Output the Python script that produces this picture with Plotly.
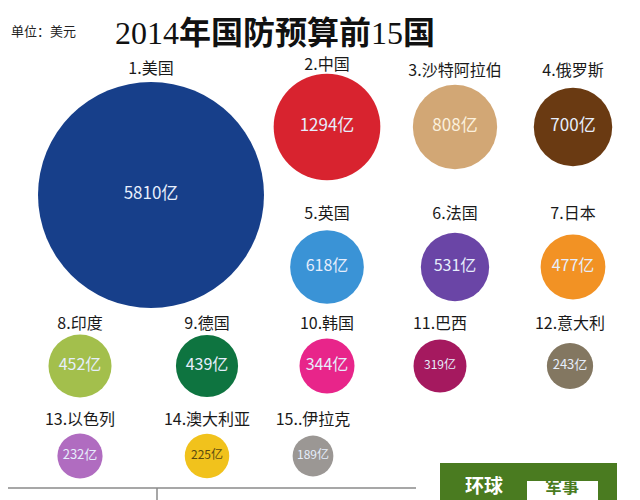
import plotly.graph_objects as go

# 2014 defence budgets, top 15 (unit: 亿美元)
countries = ["美国", "中国", "沙特阿拉伯", "俄罗斯", "英国", "法国", "日本", "印度",
             "德国", "韩国", "巴西", "意大利", "以色列", "澳大利亚", ".伊拉克"]
budgets = [5810, 1294, 808, 700, 618, 531, 477, 452, 439, 344, 319, 243, 232, 225, 189]

# layout: slot centre of each bubble in page pixels
slot_x = [151, 327, 455, 573, 327, 455, 573, 80, 207, 327, 440, 570, 80, 207, 313]
slot_y = [195, 127, 127, 127, 267, 267, 267, 366, 366, 366, 366, 366, 456, 456, 456]
label_y = [70, 66, 72, 72, 215, 215, 215, 325, 325, 325, 325, 325, 421, 421, 421]

colors = ["#173f8a", "#d8232f", "#d2a775", "#6a3a12", "#3a93d6", "#6a45a6", "#f29224",
          "#a3bf4c", "#0e7440", "#e8258a", "#a5195f", "#837761", "#b06cc0", "#f1c21c",
          "#9b9794"]
text_colors = ["#e6eefc"] * 15
text_colors[2] = "#fbf0dc"
text_colors[13] = "#5a4a10"
text_sizes = [17, 17, 17, 17, 16, 16, 16, 16, 16, 16, 12, 13, 13, 12, 12]

# area-scaled bubbles, biggest one about 226 px across
sizeref = 2.0 * budgets[0] / 226 ** 2

# the page body has an 8px margin, so the plot starts at page pixel 8
PAD = 8
W, H = 640, 500

fig = go.Figure()
fig.add_trace(go.Scatter(
    x=slot_x, y=slot_y,
    mode="markers+text",
    marker=dict(size=budgets, sizemode="area", sizeref=sizeref,
                color=colors, line=dict(width=0), opacity=1),
    text=[f"{v}亿" for v in budgets],
    textposition="middle center",
    textfont=dict(family="Noto Sans CJK SC", size=text_sizes, color=text_colors),
    hoverinfo="skip",
))
fig.add_trace(go.Scatter(
    x=slot_x, y=label_y,
    mode="text",
    text=[f"{i + 1}.{c}" for i, c in enumerate(countries)],
    textposition="middle center",
    textfont=dict(family="Noto Sans CJK SC", size=16, color="#1a1a1a"),
    hoverinfo="skip",
))

fig.add_annotation(
    x=113, y=30, xanchor="left", yanchor="middle", showarrow=False,
    text="<span style='font-family:Liberation Serif;font-weight:normal'>2014</span>"
         "<b>年国防预算前</b>"
         "<span style='font-family:Liberation Serif;font-weight:normal'>15</span><b>国</b>",
    font=dict(family="Noto Sans CJK SC", size=32, color="#111111"),
)
fig.add_annotation(
    x=9, y=30, xanchor="left", yanchor="middle", showarrow=False,
    text="单位：美元", font=dict(family="Noto Sans CJK SC", size=13, color="#222222"),
)

# footer lines and logo box
fig.add_shape(type="line", x0=0, x1=416, y0=488, y1=488, line=dict(color="#8a8a8a", width=1.5))
fig.add_shape(type="line", x0=157, x1=157, y0=488, y1=500, line=dict(color="#8a8a8a", width=1.5))
fig.add_shape(type="rect", x0=440, x1=617, y0=463, y1=510, fillcolor="#4a7b20",
              line=dict(width=0), layer="below")
fig.add_shape(type="rect", x0=527, x1=598, y0=481, y1=510, fillcolor="#ffffff",
              line=dict(width=0), layer="below")
fig.add_annotation(x=484, y=500, xanchor="center", yanchor="bottom", showarrow=False,
                   text="<b>环球</b>", font=dict(family="Noto Sans CJK SC", size=19, color="#ffffff"))
fig.add_annotation(x=562, y=500, xanchor="center", yanchor="bottom", showarrow=False,
                   text="<b>军事</b>", font=dict(family="Noto Sans CJK SC", size=17, color="#4a7b20"))

fig.update_xaxes(range=[PAD, W], visible=False, fixedrange=True)
fig.update_yaxes(range=[H, PAD], visible=False, fixedrange=True)
fig.update_layout(
    width=W - PAD, height=H - PAD,
    margin=dict(l=0, r=0, t=0, b=0),
    paper_bgcolor="white", plot_bgcolor="white",
    showlegend=False,
)
fig.write_html("out.html")
